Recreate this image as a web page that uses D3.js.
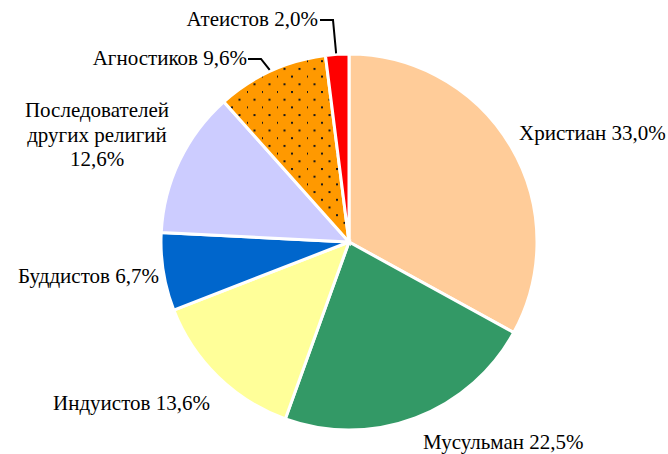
<!DOCTYPE html>
<html><head><meta charset="utf-8">
<script src="https://cdn.jsdelivr.net/npm/d3@7/dist/d3.min.js"></script>
<style>
html,body{margin:0;padding:0;background:#fff;}
</style></head>
<body><svg id="c" width="668" height="454"></svg>
<script>
const categories = ["Христиан","Мусульман","Индуистов","Буддистов","Последователей других религий","Агностиков","Атеистов"];
const values = [33.0, 22.5, 13.6, 6.7, 12.6, 9.6, 2.0];
const labelTexts = [["Христиан 33,0%"],["Мусульман 22,5%"],["Индуистов 13,6%"],["Буддистов 6,7%"],["Последователей","других религий","12,6%"],["Агностиков 9,6%"],["Атеистов 2,0%"]];

const colors = ["#FFCC99","#339966","#FFFF99","#0066CC","#CCCCFF","#FF9900","#FF0000"];
const labelPos = [
  {x:519,y:140,a:"start"},
  {x:423,y:449,a:"start"},
  {x:53,y:410,a:"start"},
  {x:18,y:283,a:"start"},
  {x:97,y:117,a:"middle",lh:24.5},
  {x:247,y:65,a:"end"},
  {x:318,y:26,a:"end"}
];
const leaders = {5:{elbow:[261,59],end:[248,59]}, 6:{elbow:[333,20],end:[320,20]}};

const svg = d3.select("#c");
const cx = 349, cy = 242, R = 188;

const defs = svg.append("defs");
const pat = defs.append("pattern").attr("id","dots").attr("patternUnits","userSpaceOnUse")
  .attr("width",15).attr("height",15.4).attr("x",2).attr("y",3);
pat.append("rect").attr("width",15).attr("height",15.4).attr("fill","#FF9900");
pat.append("rect").attr("x",0).attr("y",0).attr("width",2).attr("height",2).attr("fill","#1a1a1a");
pat.append("rect").attr("x",7.5).attr("y",7.7).attr("width",2).attr("height",2).attr("fill","#1a1a1a");

const data = categories.map((c,i)=>({c, v:values[i], i}));
const pie = d3.pie().value(d=>d.v).sort(null);
const arc = d3.arc().innerRadius(0).outerRadius(R);
const arcs = pie(data);

const g = svg.append("g").attr("transform",`translate(${cx},${cy})`);
g.selectAll("path").data(arcs).join("path")
  .attr("d",arc)
  .attr("fill",d=> d.data.i===5 ? "url(#dots)" : colors[d.data.i])
  .attr("stroke","#fff").attr("stroke-width",3).attr("stroke-linejoin","miter");

Object.keys(leaders).forEach(k=>{
  const a = arcs[+k];
  const m = (a.startAngle+a.endAngle)/2;
  const p = [cx + (R+1)*Math.sin(m) - 1, cy - (R+1)*Math.cos(m)];
  const L = leaders[k];
  svg.append("polyline")
    .attr("points",[p, L.elbow, L.end].map(q=>q.join(",")).join(" "))
    .attr("fill","none").attr("stroke","#000").attr("stroke-width",2);
});

labelTexts.forEach((lines,i)=>{
  const lp = labelPos[i];
  const t = svg.append("text").attr("text-anchor",lp.a)
    .style("font-family","Liberation Serif")
    .style("font-size","21px").style("fill","#000");
  lines.forEach((ln,j)=>{
    t.append("tspan").attr("x",lp.x).attr("y",lp.y + j*(lp.lh||0)).text(ln);
  });
});
</script></body></html>
